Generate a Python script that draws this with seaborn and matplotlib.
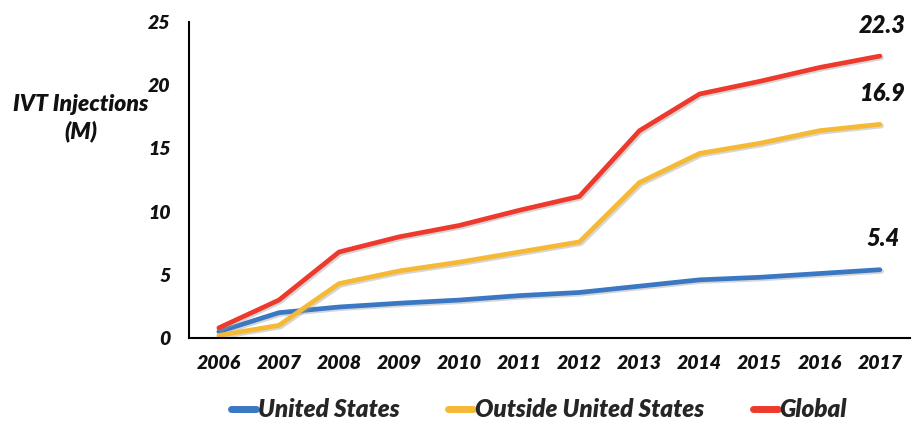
import pandas as pd
import matplotlib.pyplot as plt
import matplotlib.patheffects as pe
import seaborn as sns

years = ["2006", "2007", "2008", "2009", "2010", "2011",
         "2012", "2013", "2014", "2015", "2016", "2017"]
united_states = [0.5, 2.0, 2.45, 2.75, 3.0, 3.35, 3.6, 4.1, 4.6, 4.8, 5.1, 5.4]
outside_us = [0.2, 1.0, 4.3, 5.3, 6.0, 6.8, 7.6, 12.3, 14.6, 15.4, 16.4, 16.9]
global_total = [0.8, 3.0, 6.8, 8.0, 8.9, 10.1, 11.2, 16.4, 19.3, 20.3, 21.4, 22.3]

series = ["United States", "Outside United States", "Global"]
colors = ["#3A78C3", "#F6B936", "#EE3A2C"]

rows = []
for name, vals in zip(series, [united_states, outside_us, global_total]):
    for i, v in enumerate(vals):
        rows.append({"pos": i, "Year": years[i], "Value": v, "Series": name})
df = pd.DataFrame(rows)

sns.set_style("white")
plt.rcParams["font.family"] = ["Lato", "DejaVu Sans"]

fig = plt.figure(figsize=(9.21, 4.30), dpi=100)
ax = fig.add_axes([0.205, 0.214, 0.783, 0.735])

sns.lineplot(data=df, x="pos", y="Value", hue="Series", palette=colors,
             hue_order=series, linewidth=3.4, ax=ax, legend=False)

for line in ax.get_lines():
    line.set_path_effects([pe.SimpleLineShadow(offset=(1.2, -1.2), shadow_color="#999999", alpha=0.4),
                           pe.Normal()])
    line.set_solid_capstyle("round")

ax.set_xlim(-0.5, 11.5)
ax.set_ylim(0, 25)
ax.set_yticks([0, 5, 10, 15, 20, 25])
ax.set_xticks([i - 0.5 for i in range(13)])
ax.set_xticklabels([])
ax.set_xticks(list(range(12)), minor=True)
ax.set_xticklabels(years, minor=True)
ax.tick_params(axis="x", which="minor", length=0, pad=12)
ax.tick_params(axis="x", which="major", direction="out", length=6, width=1.5, color="black")
ax.tick_params(axis="y", direction="out", length=6, width=1.5, color="black", pad=7)
for lbl in ax.get_xticklabels(minor=True) + ax.get_yticklabels():
    lbl.set_fontsize(14)
    lbl.set_fontweight("heavy")
    lbl.set_fontstyle("italic")
    lbl.set_color("#111111")

sns.despine(ax=ax)
for s in ["left", "bottom"]:
    ax.spines[s].set_color("black")
    ax.spines[s].set_linewidth(1.5)

ax.set_xlabel("")
ax.set_ylabel("")
fig.text(0.088, 0.725, "IVT Injections\n(M)", ha="center", va="center",
         fontsize=16.5, fontweight="heavy", fontstyle="italic", color="#111111",
         linespacing=1.3)

for vals in [global_total, outside_us, united_states]:
    ax.annotate(f"{vals[-1]}", (11, vals[-1]), xytext=(2, 14), textcoords="offset points",
                ha="center", va="bottom", fontsize=17, fontweight="heavy", fontstyle="italic",
                color="#111111")

handles = [plt.Line2D([0], [0], color=c, linewidth=5) for c in colors]
fig.legend(handles, series, loc="center", bbox_to_anchor=(0.585, 0.047), ncol=3,
           frameon=False, handlelength=1.05, handletextpad=0.05, columnspacing=2.0,
           prop={"size": 17.5, "weight": "heavy", "style": "italic"})

fig.savefig("out.png", dpi=100)
